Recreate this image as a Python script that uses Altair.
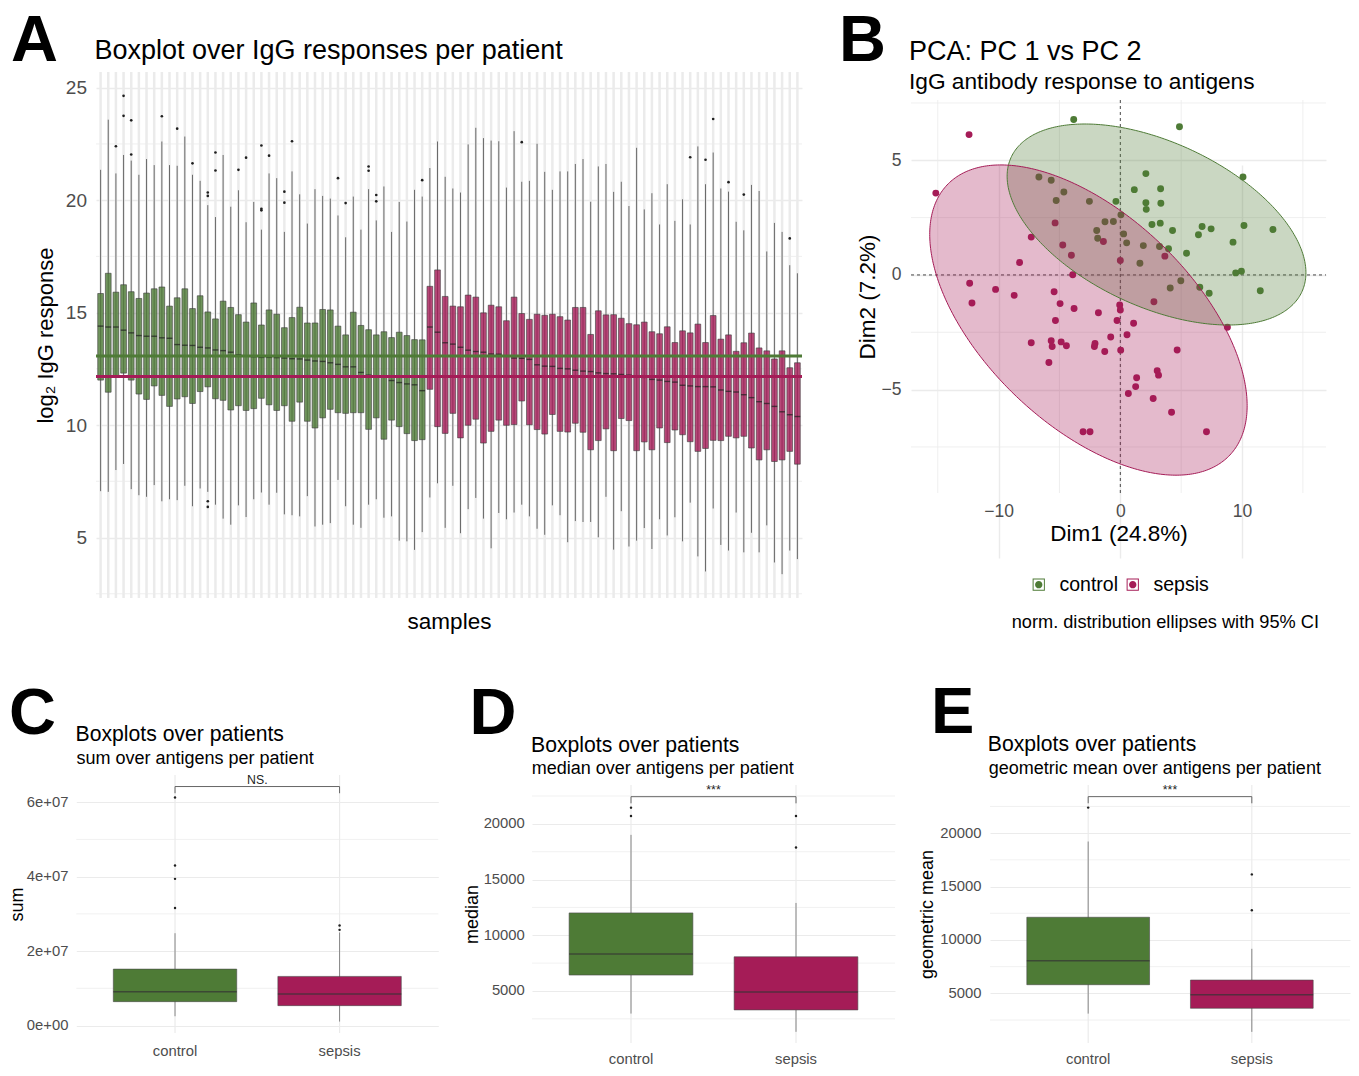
import altair as alt
import numpy as np
import pandas as pd

FONT = "Liberation Sans"
GREEN = "#4E7B36"
PINK = "#A51C57"
GRID = "#EBEBEB"
LABEL = "#4D4D4D"
GROUPS = ["control", "sepsis"]
color_scale = alt.Scale(domain=GROUPS, range=[GREEN, PINK])

# ---------------- Panel A: per-patient boxplot statistics (log2 IgG) ----------------
ctrl_hi = [21.35, 23.58, 21.19, 22.01, 21.76, 21.13, 21.83, 21.56, 22.61, 21.56,
           21.53, 22.83, 21.13, 20.86, 19.78, 19.25, 22.01, 19.71, 20.44, 19.02,
           19.92, 18.69, 21.19, 20.98, 18.59, 21.28, 20.26, 18.96, 20.49, 20.19,
           20.07, 19.32, 18.35, 20.16, 18.69, 20.49, 19.10, 20.61, 18.59, 19.92,
           19.05, 20.46, 20.16]
ctrl_q3 = [15.85, 16.75, 15.91, 16.24, 15.93, 15.63, 15.87, 16.06, 16.14, 15.29,
           15.66, 16.06, 15.18, 15.75, 15.03, 14.72, 15.51, 15.23, 14.91, 14.58,
           15.43, 14.45, 15.12, 14.93, 14.33, 14.78, 15.24, 14.54, 14.54, 15.14,
           15.12, 14.40, 14.01, 15.02, 14.43, 14.24, 14.01, 14.15, 13.89, 14.13,
           13.98, 13.80, 13.79]
ctrl_med = [14.40, 14.36, 14.36, 14.22, 14.10, 13.98, 13.95, 13.95, 13.88, 13.86,
            13.58, 13.55, 13.54, 13.46, 13.43, 13.34, 13.31, 13.24, 13.12, 13.07,
            13.04, 13.01, 13.01, 13.00, 12.98, 12.95, 12.94, 12.89, 12.85, 12.83,
            12.77, 12.70, 12.59, 12.59, 12.34, 12.22, 12.19, 12.15, 11.98, 11.89,
            11.83, 11.79, 11.53]
ctrl_q1 = [12.00, 11.46, 12.16, 12.31, 12.00, 11.38, 11.14, 11.74, 11.32, 10.83,
           11.16, 11.26, 10.96, 11.49, 11.70, 11.17, 11.10, 10.67, 10.86, 10.65,
           10.73, 11.19, 10.90, 10.65, 10.86, 10.17, 11.02, 10.17, 9.87, 10.32,
           10.70, 10.55, 10.52, 10.55, 10.55, 9.81, 10.32, 9.37, 10.22, 9.93,
           9.62, 9.31, 9.35]
ctrl_lo = [7.06, 7.03, 8.00, 8.27, 7.15, 6.88, 6.81, 7.33, 6.61, 6.70,
           6.66, 7.30, 6.39, 7.18, 7.03, 6.46, 5.84, 5.57, 6.43, 5.91,
           6.70, 7.00, 6.46, 6.99, 6.03, 5.99, 5.94, 6.84, 5.49, 5.57,
           5.64, 7.56, 6.39, 5.57, 5.43, 6.46, 6.70, 5.88, 5.94, 4.86,
           4.83, 4.45, 5.24]

sep_hi = [21.43, 22.61, 21.04, 20.52, 20.34, 22.48, 23.22, 22.76, 22.65, 22.62,
          20.56, 23.07, 20.82, 20.86, 22.51, 21.26, 20.46, 21.28, 21.28, 21.61,
          21.83, 19.93, 21.50, 21.61, 20.37, 20.82, 19.74, 22.33, 19.59, 20.31,
          18.92, 20.71, 19.08, 20.04, 18.92, 22.39, 20.71, 22.12, 20.52, 20.38,
          19.04, 18.66, 20.68, 20.41, 17.72, 18.99, 18.59, 17.11, 16.75]
sep_q3 = [16.17, 16.90, 15.72, 15.29, 15.26, 15.78, 15.69, 14.99, 15.33, 15.26,
          14.64, 15.69, 14.96, 14.70, 14.93, 14.88, 14.93, 14.82, 14.67, 15.23,
          15.23, 14.03, 15.08, 14.90, 14.91, 14.75, 14.51, 14.46, 14.58, 14.15,
          14.06, 14.37, 13.67, 14.19, 14.10, 14.49, 13.67, 14.87, 13.82, 14.01,
          13.28, 13.66, 14.09, 13.43, 13.30, 12.94, 13.30, 12.55, 12.77]
sep_med = [14.36, 14.13, 13.66, 13.60, 13.46, 13.33, 13.27, 13.24, 13.16, 13.15,
           13.07, 12.98, 12.97, 12.92, 12.68, 12.62, 12.61, 12.52, 12.50, 12.44,
           12.40, 12.38, 12.32, 12.29, 12.28, 12.25, 12.22, 12.16, 12.12, 12.03,
           12.00, 11.94, 11.91, 11.77, 11.74, 11.71, 11.71, 11.70, 11.56, 11.50,
           11.47, 11.35, 11.22, 11.04, 10.96, 10.83, 10.59, 10.46, 10.38]
sep_q1 = [11.59, 9.93, 9.63, 10.52, 9.43, 9.99, 10.26, 9.20, 9.72, 10.22,
          9.99, 10.02, 11.07, 10.01, 9.80, 9.60, 10.47, 9.72, 9.69, 10.08,
          9.68, 8.90, 9.31, 9.83, 8.86, 10.29, 10.20, 8.86, 9.25, 8.90,
          9.87, 9.22, 9.78, 9.57, 9.26, 8.83, 8.96, 9.32, 9.31, 9.50,
          9.43, 9.50, 8.98, 8.45, 8.90, 8.38, 8.45, 8.83, 8.26]
sep_lo = [6.78, 7.41, 5.43, 7.30, 5.19, 6.26, 6.76, 5.84, 4.52, 6.09,
          5.81, 6.11, 6.46, 5.94, 5.39, 5.12, 6.43, 5.99, 4.79, 5.73,
          5.69, 5.69, 5.01, 6.81, 4.46, 6.17, 4.60, 4.86, 5.42, 4.49,
          5.81, 5.09, 5.90, 4.83, 6.55, 4.16, 3.49, 6.29, 4.67, 4.42,
          6.11, 4.34, 5.21, 4.34, 5.54, 3.89, 3.37, 4.42, 4.04]

ctrl_out_idx = [3, 4, 4, 5, 5, 9, 11, 13, 15, 15, 15, 15, 16, 16, 19, 20, 22, 22, 22,
                23, 25, 25, 26, 32, 33, 36, 36, 37, 37, 43]
ctrl_out_val = [22.40, 24.64, 23.75, 22.03, 23.55, 23.73, 23.18, 21.64, 20.34, 20.19,
                6.61, 6.36, 22.12, 21.32, 21.35, 21.89, 22.43, 19.62, 19.55, 21.98,
                20.38, 19.89, 22.62, 20.98, 19.87, 21.50, 21.31, 20.23, 19.95, 20.89]
sep_out_idx = [13, 35, 37, 38, 40, 42, 48]
sep_out_val = [22.58, 21.91, 21.80, 23.61, 20.80, 20.25, 18.30]
group_line = [13.07, 12.16]

# ---------------- Panel B: PCA coordinates ----------------
ctrl_d1 = [-3.83, 4.86, 2.10, 10.08, 1.15, 3.31, 2.10, 3.33, 2.13, -0.36, 2.60, 3.28, 4.29,
           6.72, 7.46, 6.42, 10.16, 12.54, 9.26, 3.96, 5.44, 9.48, 9.95, 6.53, 7.30, 11.50,
           -6.69, -5.68, -4.64, -5.27, -2.54, -1.26, -0.57, 0.05, -1.94, -1.86, 0.27, 0.52,
           1.89, 3.22, 1.61, 4.10, 4.97]
ctrl_d2 = [6.78, 6.46, 4.42, 4.27, 3.72, 3.76, 3.15, 3.13, 2.86, 3.21, 2.20, 2.26, 1.94,
           2.11, 2.01, 1.75, 2.16, 1.98, 1.43, 1.14, 0.95, 0.09, 0.16, -0.54, -0.80, -0.69,
           4.27, 4.13, 3.62, 3.25, 3.21, 2.32, 2.33, 2.62, 1.94, 1.60, 1.79, 1.40,
           1.28, 1.24, 0.51, -0.57, -0.25]
sep_d1 = [-12.43, -15.16, -5.36, -7.32, -1.39, -4.73, -4.02, 0.00, 3.66, -8.28, -3.91,
          -12.38, -10.25, -8.72, -5.44, -12.19, -4.95, -3.80, -1.80, -0.05, 0.00, 2.76,
          -5.33, -0.27, 1.09, 8.80, 0.55, -0.79, -7.32, -5.68, -5.60, -4.86, -4.43, -2.08,
          -2.13, -1.28, 0.03, 4.67, -5.87, 1.34, 3.03, 3.14, 1.26, 0.66, 2.70, 4.21,
          -3.06, -2.49, 7.08]
sep_d2 = [6.12, 3.57, 2.27, 1.65, 1.46, 1.31, 0.86, 0.63, 0.82, 0.54, 0.01,
          -0.36, -0.63, -0.89, -0.73, -1.22, -1.25, -1.46, -1.65, -1.31, -1.53, -1.17,
          -1.99, -1.99, -2.11, -2.28, -2.61, -2.71, -2.96, -2.87, -3.12, -2.92, -3.09, -2.99,
          -3.12, -3.34, -3.28, -3.27, -3.82, -4.48, -4.18, -4.37, -4.87, -5.17, -5.39, -5.99,
          -6.84, -6.84, -6.84]
# F(0.95; 2, n-1) quantiles for the 95% normal ellipses (n = 43 and 49)
f95 = {"control": 3.2199, "sepsis": 3.1907}

# ---------------- Panels C, D, E: box statistics over patients ----------------
sum_stats = {"lo": [0.25e7, 0.107e7], "q1": [0.642e7, 0.535e7], "med": [0.91e7, 0.847e7],
             "q3": [1.516e7, 1.32e7], "hi": [2.48e7, 2.50e7]}
sum_out_grp = ["control", "control", "control", "control", "sepsis", "sepsis"]
sum_out_val = [6.125e7, 4.30e7, 3.94e7, 3.16e7, 2.69e7, 2.57e7]
sum_bracket = [6.42e7, 6.24e7]

med_stats = {"lo": [2972, 1333], "q1": [6431, 3300], "med": [8310, 4911],
             "q3": [12007, 8071], "hi": [19013, 12901]}
med_out_grp = ["control", "control", "sepsis", "sepsis"]
med_out_val = [21458, 20713, 20713, 17880]
med_bracket = [22442, 21845]

gm_stats = {"lo": [3102, 1391], "q1": [5809, 3600], "med": [8049, 4876],
            "q3": [12125, 6245], "hi": [19219, 9169]}
gm_out_grp = ["control", "sepsis", "sepsis"]
gm_out_val = [22393, 16139, 12779]
gm_bracket = [23420, 22797]


# ---------------- helpers ----------------
def text(t, x, y, size, weight="normal", align="left", baseline="alphabetic", color="black"):
    return alt.Chart(pd.DataFrame({"t": [t]})).mark_text(
        font=FONT, fontSize=size, fontWeight=weight, align=align, baseline=baseline,
        color=color).encode(text="t:N", x=alt.value(x), y=alt.value(y))


def frame(w, h):
    # invisible rule spanning the whole cell, so that the cell's extent is exactly w x h
    return alt.Chart(pd.DataFrame({"z": [0]})).mark_rule(opacity=0, strokeWidth=0).encode(
        x=alt.value(0), x2=alt.value(w), y=alt.value(0), y2=alt.value(h))


# ================= Panel A (cell 812 x 642, plot x 87..793, y 64..590) =================
WA, HA = 812, 642
AX0, AX1, AY0, AY1 = 87, 793, 64, 590
idsA = [f"C{i+1}" for i in range(len(ctrl_med))] + [f"S{i+1}" for i in range(len(sep_med))]
dfA = pd.DataFrame({
    "sample": idsA,
    "group": ["control"] * len(ctrl_med) + ["sepsis"] * len(sep_med),
    "lo": ctrl_lo + sep_lo, "q1": ctrl_q1 + sep_q1, "med": ctrl_med + sep_med,
    "q3": ctrl_q3 + sep_q3, "hi": ctrl_hi + sep_hi})
outA = pd.DataFrame({"sample": [f"C{i}" for i in ctrl_out_idx] + [f"S{i}" for i in sep_out_idx],
                     "v": ctrl_out_val + sep_out_val})
scaleAx = alt.Scale(domain=idsA, range=[AX0, AX1], paddingInner=0.25, paddingOuter=0.225)
axAx = alt.Axis(labels=False, ticks=False, domain=False, grid=False, title="samples",
                titleFontSize=22.5, titlePadding=12, offset=-(HA - AY1))
scaleAy = alt.Scale(domain=[2.31, 25.70], range=[AY1, AY0], nice=False, zero=False)
axAy = alt.Axis(values=[5, 10, 15, 20, 25], grid=True, gridWidth=1.4, labelFontSize=19,
                labelPadding=9.5, title="log₂ IgG response", titleFontSize=22, titlePadding=8,
                offset=-AX0)


def xA():
    return alt.X("sample:N", scale=scaleAx, axis=axAx)


def yA(f):
    return alt.Y(f"{f}:Q", scale=scaleAy, axis=axAy)


A_vgrid = alt.Chart(dfA).mark_rule(color=GRID, strokeWidth=2.5).encode(
    x=xA(), y=alt.value(AY0), y2=alt.value(AY1))
A_minor = alt.Chart(pd.DataFrame({"v": [2.5, 7.5, 12.5, 17.5, 22.5]})).mark_rule(
    color=GRID, strokeWidth=0.8).encode(y=yA("v"), x=alt.value(AX0), x2=alt.value(AX1))
A_whisk = alt.Chart(dfA).mark_rule(color="#6a6a6a", strokeWidth=1).encode(
    x=xA(), y=yA("lo"), y2="hi")
A_box = alt.Chart(dfA).mark_bar(fillOpacity=0.8, stroke="#3a3a3a", strokeWidth=0.6).encode(
    x=xA(), y=yA("q1"), y2="q3", fill=alt.Fill("group:N", scale=color_scale, legend=None))
A_med = alt.Chart(dfA).mark_tick(color="#1f1f1f", thickness=1.4, size=5.7).encode(
    x=xA(), y=yA("med"))
A_out = alt.Chart(outA).mark_circle(size=7, color="#1f1f1f", opacity=1).encode(
    x=xA(), y=yA("v"))
A_line = alt.Chart(pd.DataFrame({"group": GROUPS, "v": group_line})).mark_rule(
    strokeWidth=3).encode(y=yA("v"), x=alt.value(AX0), x2=alt.value(AX1),
                          color=alt.Color("group:N", scale=color_scale, legend=None))

chartA = alt.layer(
    frame(WA, HA), A_vgrid, A_minor, A_whisk, A_box, A_med, A_out, A_line,
    text("A", 2, 52.5, 65, weight="bold"),
    text("Boxplot over IgG responses per patient", 85.5, 51, 27),
).properties(width=WA, height=HA)

# ================= Panel B (cell 530 x 642, plot x 90..505, y 92..485) =================
WB, HB = 530, 642
BX0, BX1, BY0, BY1 = 90, 505, 92, 485
BXD, BYD = [-17.2, 16.9], [-9.51, 7.63]
dfB = pd.DataFrame({"group": ["control"] * len(ctrl_d1) + ["sepsis"] * len(sep_d1),
                    "d1": ctrl_d1 + sep_d1, "d2": ctrl_d2 + sep_d2})


def ellipse(group, n=361):
    sub = dfB[dfB.group == group]
    x, y = sub.d1.to_numpy(), sub.d2.to_numpy()
    c = np.array([x.mean(), y.mean()])
    S = np.cov(np.vstack([x, y]))
    r = np.sqrt(2 * f95[group])
    L = np.linalg.cholesky(S)
    t = np.linspace(0, 2 * np.pi, n)
    pts = c + r * (np.column_stack([np.cos(t), np.sin(t)]) @ L.T)
    inside = (pts[:, 1] >= BYD[0]) & (pts[:, 1] <= BYD[1])
    seg = np.cumsum(np.r_[0, (np.diff(inside.astype(int)) != 0).astype(int)])
    outline = pd.DataFrame({"group": group, "seg": [f"{group}{s}" for s in seg],
                            "i": np.arange(n), "x": pts[:, 0], "y": pts[:, 1]})[inside]
    Si = np.linalg.inv(S)
    a_, b_, c_ = Si[0, 0], Si[0, 1], Si[1, 1]
    dx = r * np.sqrt(S[0, 0]) * np.cos(np.linspace(np.pi, 0, n))
    disc = np.clip(b_ ** 2 * dx ** 2 - c_ * (a_ * dx ** 2 - r ** 2), 0, None)
    ylo = c[1] + (-b_ * dx - np.sqrt(disc)) / c_
    yhi = c[1] + (-b_ * dx + np.sqrt(disc)) / c_
    area = pd.DataFrame({"group": group, "x": c[0] + dx,
                         "ylo": np.clip(ylo, *BYD), "yhi": np.clip(yhi, *BYD)})
    return outline, area


scaleBx = alt.Scale(domain=BXD, range=[BX0, BX1], nice=False, zero=False)
scaleBy = alt.Scale(domain=BYD, range=[BY1, BY0], nice=False, zero=False)
axBx = alt.Axis(values=[-10, 0, 10], grid=True, gridWidth=1.4, labelFontSize=17.5,
                labelPadding=9, title="Dim1 (24.8%)", titleFontSize=22.5, titlePadding=3,
                offset=-(HB - BY1))
axBy = alt.Axis(values=[-5, 0, 5], grid=True, gridWidth=1.4, labelFontSize=17.5,
                labelPadding=10, title="Dim2 (7.2%)", titleFontSize=22.5, titlePadding=2,
                offset=-BX0)

# legend key: thin square frame with a dot inside (path in the unit box)
KEY = ("M-1,-1H1V1H-1Z M-0.84,-0.84V0.84H0.84V-0.84Z "
       "M-0.6,0A0.6,0.6 0 1,0 0.6,0A0.6,0.6 0 1,0 -0.6,0Z")
legendB = alt.Legend(title=None, orient="none", legendX=208, legendY=566.5,
                     direction="horizontal", symbolType=KEY, symbolSize=150,
                     symbolStrokeWidth=0, symbolOpacity=1, labelFontSize=19.5,
                     labelColor="black", labelFont=FONT, columnPadding=4, labelOffset=11,
                     padding=0)
colorB = alt.Color("group:N", scale=color_scale, legend=legendB)


def xB(f):
    return alt.X(f"{f}:Q", scale=scaleBx, axis=axBx)


def yB(f):
    return alt.Y(f"{f}:Q", scale=scaleBy, axis=axBy)


B_minx = alt.Chart(pd.DataFrame({"v": [-15, -5, 5, 15]})).mark_rule(
    color=GRID, strokeWidth=0.8).encode(x=xB("v"), y=alt.value(BY0), y2=alt.value(BY1))
B_miny = alt.Chart(pd.DataFrame({"v": [-7.5, -2.5, 2.5, 7.5]})).mark_rule(
    color=GRID, strokeWidth=0.8).encode(y=yB("v"), x=alt.value(BX0), x2=alt.value(BX1))
B_zx = alt.Chart(pd.DataFrame({"v": [0]})).mark_rule(
    color="#333333", strokeWidth=0.9, strokeDash=[3, 3]).encode(
    x=xB("v"), y=alt.value(BY0), y2=alt.value(BY1))
B_zy = alt.Chart(pd.DataFrame({"v": [0]})).mark_rule(
    color="#333333", strokeWidth=0.9, strokeDash=[3, 3]).encode(
    y=yB("v"), x=alt.value(BX0), x2=alt.value(BX1))
B_pts = alt.Chart(dfB).mark_circle(size=48, opacity=1).encode(
    x=xB("d1"), y=yB("d2"), color=colorB)
B_layers = [frame(WB, HB), B_minx, B_miny, B_zx, B_zy, B_pts]
outlines = []
for g in GROUPS:
    ol, ar = ellipse(g)
    outlines.append(ol)
    B_layers.append(alt.Chart(ar).mark_area(opacity=0.3).encode(
        x=xB("x"), y=yB("yhi"), y2="ylo", color=colorB))
B_out = alt.Chart(pd.concat(outlines)).mark_line(strokeWidth=1).encode(
    x=xB("x"), y=yB("y"), order="i:Q", detail="seg:N", color=colorB)
B_layers += [
    B_out,
    text("norm. distribution ellipses with 95% CI", 498, 620, 18.2, align="right"),
    text("B", 18, 52.5, 65, weight="bold"),
    text("PCA: PC 1 vs PC 2", 88, 51.5, 27),
    text("IgG antibody response to antigens", 88, 81, 22.7),
]
chartB = alt.layer(*B_layers).properties(width=WB, height=HB)


# ================= Panels C, D, E (cells of height 418) =================
def box_panel(stats, out_grp, out_val, bracket, sig, domain, major, minor, ytitle,
              subtitle, ch, W, H, plot, letter_xy, title_xy, sub_xy, lab_pad, xlab_pad,
              ytp, label_expr=None):
    X0, X1, Y0, Y1 = plot
    df = pd.DataFrame({"group": GROUPS, **stats})
    dfo = pd.DataFrame({"group": out_grp, "v": out_val})
    xs = alt.Scale(domain=GROUPS, range=[X0, X1], paddingInner=0.25, paddingOuter=0.225)
    xax = alt.Axis(title=None, labelFontSize=14.8, labelPadding=xlab_pad, labelAngle=0,
                   grid=False, offset=-(H - Y1))
    ys = alt.Scale(domain=domain, range=[Y1, Y0], nice=False, zero=False)
    yax_kw = dict(values=major, grid=True, gridWidth=1.2, labelFontSize=14.8,
                  labelPadding=lab_pad, title=ytitle, titleFontSize=18, titlePadding=ytp,
                  offset=-X0)
    if label_expr:
        yax_kw["labelExpr"] = label_expr
    else:
        yax_kw["format"] = "d"
    yax = alt.Axis(**yax_kw)

    def x():
        return alt.X("group:N", scale=xs, axis=xax)

    def y(f):
        return alt.Y(f"{f}:Q", scale=ys, axis=yax)

    vgrid = alt.Chart(df).mark_rule(color=GRID, strokeWidth=1.2).encode(
        x=x(), y=alt.value(Y0), y2=alt.value(Y1))
    mgrid = alt.Chart(pd.DataFrame({"v": minor})).mark_rule(color=GRID, strokeWidth=0.7).encode(
        y=y("v"), x=alt.value(X0), x2=alt.value(X1))
    whisk = alt.Chart(df).mark_rule(color="#7a7a7a", strokeWidth=0.9).encode(
        x=x(), y=y("lo"), y2="hi")
    box = alt.Chart(df).mark_bar(stroke="#4a4a4a", strokeWidth=0.6).encode(
        x=x(), y=y("q1"), y2="q3", fill=alt.Fill("group:N", scale=color_scale, legend=None))
    bw = (X1 - X0) / 2.2 * 0.75
    med = alt.Chart(df).mark_tick(color="#333333", thickness=1.5, size=bw).encode(
        x=x(), y=y("med"))
    outl = alt.Chart(dfo).mark_circle(size=6, color="#1f1f1f", opacity=1).encode(
        x=x(), y=y("v"))
    br = pd.DataFrame({"group": ["control", "control", "sepsis", "sepsis"],
                       "v": [bracket[1], bracket[0], bracket[0], bracket[1]],
                       "o": [0, 1, 2, 3]})
    brl = alt.Chart(br).mark_line(color="#666666", strokeWidth=1).encode(
        x=x(), y=y("v"), order="o:Q")
    sigt = alt.Chart(pd.DataFrame({"t": [sig], "v": [bracket[0]]})).mark_text(
        font=FONT, fontSize=12.3, color="#222222", dy=-7).encode(
        text="t:N", x=alt.value((X0 + X1) / 2), y=y("v"))
    return alt.layer(
        frame(W, H), vgrid, mgrid, whisk, box, med, outl, brl, sigt,
        text(ch, letter_xy[0], letter_xy[1], 65, weight="bold"),
        text("Boxplots over patients", title_xy[0], title_xy[1], 21.2),
        text(subtitle, sub_xy[0], sub_xy[1], 18),
    ).properties(width=W, height=H)


H2 = 418
chartC = box_panel(sum_stats, sum_out_grp, sum_out_val, sum_bracket, "NS.",
                   [-0.2e7, 6.73e7], [0, 2e7, 4e7, 6e7], [1e7, 3e7, 5e7], "sum",
                   "sum over antigens per patient", "C", 447, H2,
                   (67.3, 429.3, 125, 383), (0, 84), (66.5, 91), (67.5, 114), 8.4, 10, 0,
                   label_expr="datum.value == 0 ? '0e+00' : format(datum.value / 1e7, 'd') + 'e+07'")
chartD = box_panel(med_stats, med_out_grp, med_out_val, med_bracket, "***",
                   [330, 23490], [5000, 10000, 15000, 20000], [2500, 7500, 12500, 17500, 22500],
                   "median", "median over antigens per patient", "D", 450, H2,
                   (76, 439, 135, 393), (13.5, 84), (75, 101.7), (75.7, 124.3), 7.7, 8.5, 2)
chartE = box_panel(gm_stats, gm_out_grp, gm_out_val, gm_bracket, "***",
                   [350, 24510], [5000, 10000, 15000, 20000], [2500, 7500, 12500, 17500, 22500],
                   "geometric mean", "geometric mean over antigens per patient", "E", 445, H2,
                   (84, 444, 135, 393), (25, 83), (81.8, 101), (82.7, 124.3), 9, 8.5, 3)


def independent(c):
    return c.resolve_scale(color="independent", fill="independent").resolve_legend(
        color="independent", fill="independent")


row1 = independent(alt.hconcat(chartA, chartB, spacing=0))
row2 = independent(alt.hconcat(chartC, chartD, chartE, spacing=0))

chart = independent(alt.vconcat(row1, row2, spacing=0)).properties(
    padding=0
).configure(font=FONT).configure_view(stroke=None).configure_axis(
    labelFont=FONT, titleFont=FONT, titleFontWeight="normal", titleColor="black",
    labelColor=LABEL, domain=False, ticks=False, gridColor=GRID
)

chart.save("out.html", embed_options={"renderer": "svg", "actions": False})
